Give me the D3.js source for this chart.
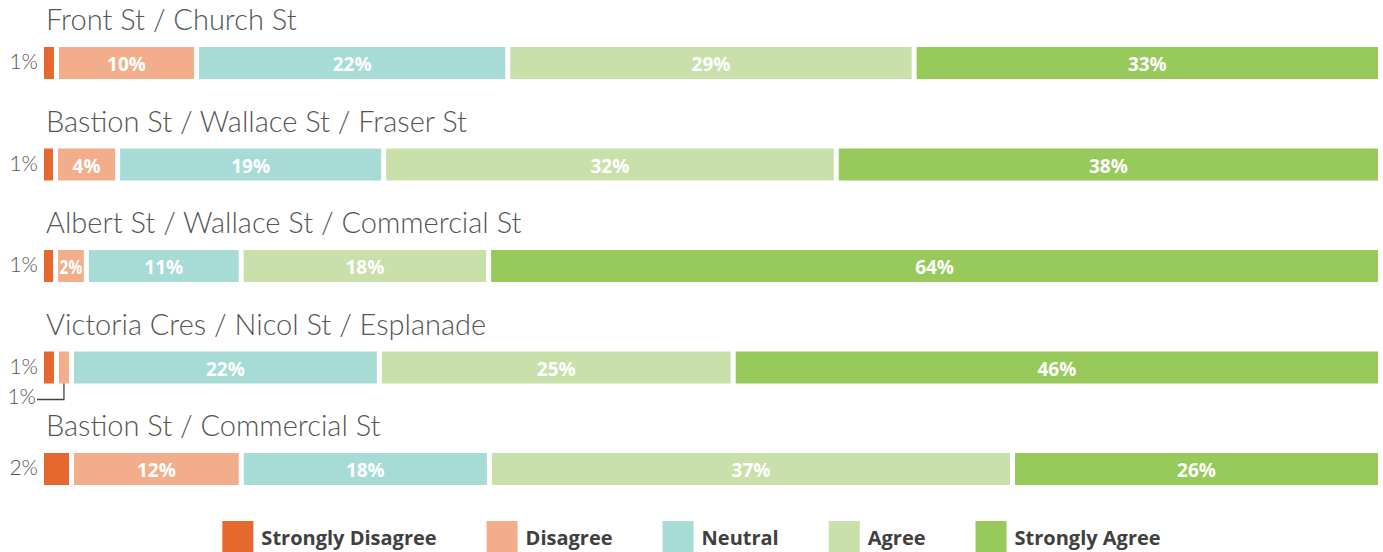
<!DOCTYPE html>
<html>
<head>
<meta charset="utf-8">
<script src="https://cdn.jsdelivr.net/npm/d3@7"></script>
<style>
  body { margin: 0; background: #fff; }
  svg { display: block; }
</style>
</head>
<body>
<div class="chart"></div>
<script>
// rows of the chart (one title + one stacked bar each)
const locations = [
    "Front St / Church St",
    "Bastion St / Wallace St / Fraser St",
    "Albert St / Wallace St / Commercial St",
    "Victoria Cres / Nicol St / Esplanade",
    "Bastion St / Commercial St"
];
const categories = ["Strongly Disagree", "Disagree", "Neutral", "Agree", "Strongly Agree"];
const colors = ["#e5692f", "#f2ae8a", "#a7dbd6", "#c9e0aa", "#97c95b"];

// share of answers per category (labels are rounded)
const frontChurch = [0.72, 9.77, 22.14, 29.02, 33.36];
const bastionWallace = [0.64, 4.08, 18.63, 31.95, 38.49];
const albertWallace = [0.66, 1.87, 10.9, 17.63, 64.49];
const victoriaNicol = [0.72, 0.72, 21.88, 25.2, 46.4];
const bastionCommercial = [1.81, 11.92, 17.6, 37.49, 26.27];
const series = [frontChurch, bastionWallace, albertWallace, victoriaNicol, bastionCommercial];

const width = 1383, height = 552;
const margin = {left: 44, right: 5};
const gap = 5, barH = 32;

const svg = d3.select(".chart").append("svg").attr("width", width).attr("height", height);

// vertical position of each row (bar top)
const y = d3.scalePoint().domain(locations).range([47, 453]);
const color = d3.scaleOrdinal().domain(categories).range(colors);
const fmt = v => d3.format(".0f")(v) + "%";

locations.forEach((loc, r) => {
    const vals = series[r];
    const total = d3.sum(vals);
    const x = d3.scaleLinear().domain([0, total])
        .range([0, width - margin.left - margin.right - gap * (vals.length - 1)]);
    const top = y(loc);
    let cum = 0;
    const segs = vals.map((v, i) => {
        const s = {cat: categories[i], v, i, x0: margin.left + x(cum) + i * gap, w: x(v)};
        cum += v;
        return s;
    });

    const g = svg.append("g");

    // title
    g.append("text")
        .attr("x", 46)
        .attr("y", top - 17)
        .attr("font-family", "Lato")
        .attr("font-weight", 300)
        .attr("font-size", 29)
        .attr("fill", "#555")
        .text(loc);

    g.selectAll("rect")
        .data(segs)
        .join("rect")
        .attr("x", d => d.x0)
        .attr("y", top)
        .attr("width", d => d.w)
        .attr("height", barH)
        .attr("fill", d => color(d.cat));

    segs.forEach(d => {
        if (d.i === 0) {
            // first segment: label on the left of the bar
            g.append("text")
                .attr("x", 38)
                .attr("y", top + 22)
                .attr("text-anchor", "end")
                .attr("font-family", "Lato")
                .attr("font-weight", 300)
                .attr("font-size", 21)
                .attr("fill", "#555")
                .text(fmt(d.v));
        } else if (d.w < 15) {
            // too narrow: label below with a leader line
            const cx = d.x0 + d.w / 2;
            g.append("path")
                .attr("d", `M${cx},${top + barH} V${top + 48} H37`)
                .attr("fill", "none")
                .attr("stroke", "#444")
                .attr("stroke-width", 1.3);
            g.append("text")
                .attr("x", 36)
                .attr("y", top + 52)
                .attr("text-anchor", "end")
                .attr("font-family", "Lato")
                .attr("font-weight", 300)
                .attr("font-size", 21)
                .attr("fill", "#555")
                .text(fmt(d.v));
        } else {
            const t = g.append("text")
                .attr("x", d.x0 + d.w / 2)
                .attr("y", top + 24)
                .attr("text-anchor", "middle")
                .attr("font-family", "Open Sans")
                .attr("font-weight", 700)
                .attr("font-size", 19)
                .attr("fill", "#fff")
                .text(fmt(d.v));
            const tw = t.node().getComputedTextLength();
            if (tw > d.w - 3) {
                t.attr("textLength", d.w - 3).attr("lengthAdjust", "spacingAndGlyphs");
            }
        }
    });
});

// legend, centred under the chart
const legend = svg.append("g");
const items = legend.selectAll("g")
    .data(categories)
    .join("g");
items.append("rect")
    .attr("y", 521)
    .attr("width", 31)
    .attr("height", 32)
    .attr("fill", d => color(d));
items.append("text")
    .attr("x", 39)
    .attr("y", 545)
    .attr("font-family", "Open Sans")
    .attr("font-weight", 700)
    .attr("font-size", 20)
    .attr("fill", "#404040")
    .text(d => d);

let lx = 0;
const legendGap = 50;
items.each(function() {
    const w = 39 + d3.select(this).select("text").node().getComputedTextLength();
    d3.select(this).attr("transform", `translate(${lx},0)`);
    lx += w + legendGap;
});
const legendW = lx - legendGap;
legend.attr("transform", `translate(${(width - legendW) / 2},0)`);
</script>
</body>
</html>
